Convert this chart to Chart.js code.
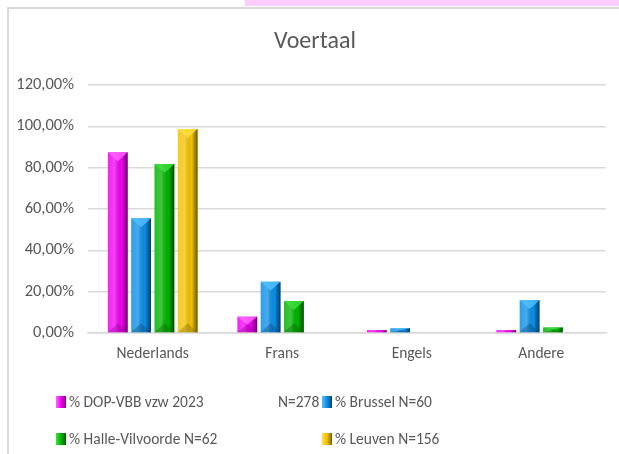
<!DOCTYPE html>
<html>
<head>
<meta charset="utf-8">
<script src="https://cdn.jsdelivr.net/npm/chart.js@4"></script>
<style>
  body { margin: 0; background: #fff; width: 619px; height: 454px; position: relative; overflow: hidden;
         font-family: Carlito, "Open Sans", sans-serif; }
  #pink { position: absolute; left: 245px; top: 0; width: 374px; height: 6px; background: #ffccff; }
  #frame { position: absolute; left: 7px; top: 7px; width: 640px; height: 470px;
           border: 2px solid #d9d9d9; box-sizing: border-box; }
  #wrap { position: absolute; left: 8px; top: 8px; width: 611px; height: 446px; }
  #legend { position: absolute; left: 56px; top: 392px; width: 500px; font-size: 15.5px; color: #595959; }
  .item { position: absolute; white-space: pre; line-height: 20px; }
  .box { display: inline-block; width: 10px; height: 12px; margin-right: 3px; vertical-align: -1px; }
</style>
</head>
<body>
<div id="pink"></div>
<div id="frame"></div>
<div id="wrap"><canvas id="chart"></canvas></div>
<div id="legend"></div>
<script>
// Voertaal per regio
const categories = ['Nederlands', 'Frans', 'Engels', 'Andere'];
const seriesNames = ['% DOP-VBB vzw 2023', '% Brussel N=60', '% Halle-Vilvoorde N=62', '% Leuven N=156'];
const dopValues = [87.4, 7.9, 1.4, 1.4];
const brusselValues = [55.5, 24.8, 2.3, 15.9];
const halleValues = [81.8, 15.5, 0, 2.7];
const leuvenValues = [98.7, 0, 0, 0];
const yTicks = [0, 20, 40, 60, 80, 100, 120];

const colors = ['#f000f0', '#0a8ee6', '#00b400', '#f2c200'];
const darks = ['#8a008a', '#05406e', '#005a00', '#7a6000'];
const lights = ['#ff66ff', '#55c0ff', '#40e040', '#ffe040'];

const fontFam = 'Carlito, "Open Sans", sans-serif';

// bevel shading on top of each bar
const bevel = {
    id: 'bevel',
    afterDatasetsDraw(chart) {
        const c = chart.ctx;
        chart.data.datasets.forEach((ds, di) => {
            chart.getDatasetMeta(di).data.forEach(bar => {
                const h = bar.base - bar.y;
                if (h < 0.5) return;
                const l = bar.x - bar.width / 2, r = bar.x + bar.width / 2, w = bar.width;
                c.save();
                const g = c.createLinearGradient(l, 0, r, 0);
                g.addColorStop(0, 'rgba(255,255,255,0.15)');
                g.addColorStop(0.35, 'rgba(255,255,255,0.25)');
                g.addColorStop(0.7, 'rgba(0,0,0,0)');
                g.addColorStop(0.85, 'rgba(0,0,0,0.3)');
                g.addColorStop(1, 'rgba(0,0,0,0.55)');
                c.fillStyle = g;
                c.fillRect(l, bar.y, w, h);
                const t = Math.min(w * 0.45, h / 2);
                if (t > 2) {
                    c.fillStyle = lights[di];
                    c.globalAlpha = 0.8;
                    c.beginPath();
                    c.moveTo(l, bar.y); c.lineTo(r, bar.y); c.lineTo(bar.x, bar.y + t); c.closePath();
                    c.fill();
                    c.fillStyle = darks[di];
                    c.globalAlpha = 0.35;
                    c.beginPath();
                    c.moveTo(l, bar.base); c.lineTo(r, bar.base); c.lineTo(bar.x, bar.base - t); c.closePath();
                    c.fill();
                }
                c.restore();
            });
        });
    }
};

const titlePlugin = {
    id: 'titleText',
    afterDraw(chart) {
        const c = chart.ctx;
        c.save();
        c.font = '24px ' + fontFam;
        c.fillStyle = '#595959';
        c.textAlign = 'center';
        c.textBaseline = 'middle';
        c.fillText('Voertaal', 307, 34);
        c.restore();
    }
};

const allValues = [dopValues, brusselValues, halleValues, leuvenValues];

const ctx = document.getElementById('chart').getContext('2d');
const chart = new Chart(ctx, {
    type: 'bar',
    data: {
        labels: categories,
        datasets: allValues.map((vals, i) => ({
            label: seriesNames[i],
            data: vals,
            backgroundColor: colors[i],
            borderWidth: 0,
            categoryPercentage: 0.72,
            barPercentage: 0.85
        }))
    },
    plugins: [bevel, titlePlugin],
    options: {
        responsive: true,
        maintainAspectRatio: false,
        animation: false,
        layout: { padding: { top: 77, right: 13, bottom: 80, left: 0 } },
        plugins: {
            legend: { display: false },
            title: { display: false },
            tooltip: { enabled: false }
        },
        scales: {
            y: {
                min: 0,
                max: 120,
                afterFit(scale) { scale.width = 80; },
                afterBuildTicks(scale) { scale.ticks = yTicks.map(v => ({ value: v })); },
                ticks: {
                    padding: 14,
                    color: '#595959',
                    font: { family: fontFam, size: 16.5 },
                    callback: v => v.toFixed(2).replace('.', ',') + '%'
                },
                grid: { color: '#d9d9d9', lineWidth: 1.5, drawTicks: false },
                border: { display: false }
            },
            x: {
                afterFit(scale) { scale.height = 41; },
                ticks: {
                    padding: 12,
                    color: '#595959',
                    font: { family: fontFam, size: 15.5 }
                },
                grid: { display: false, drawTicks: false },
                border: { color: '#d9d9d9', width: 1.5 }
            }
        }
    }
});

// legend, two columns like the original; the first entry carries N=278 at the column edge
const legend = document.getElementById('legend');
const pos = [[0, 0], [266, 0], [0, 37], [266, 37]];
seriesNames.forEach((name, i) => {
    const item = document.createElement('div');
    item.className = 'item';
    item.style.left = pos[i][0] + 'px';
    item.style.top = pos[i][1] + 'px';
    const box = document.createElement('span');
    box.className = 'box';
    box.style.background = 'linear-gradient(90deg,' + lights[i] + ',' + colors[i] + ' 50%,' + darks[i] + ')';
    item.appendChild(box);
    item.appendChild(document.createTextNode(name));
    legend.appendChild(item);
});
const n = document.createElement('div');
n.className = 'item';
n.style.left = '222px';
n.style.top = '0px';
n.textContent = 'N=278';
legend.appendChild(n);
</script>
</body>
</html>
